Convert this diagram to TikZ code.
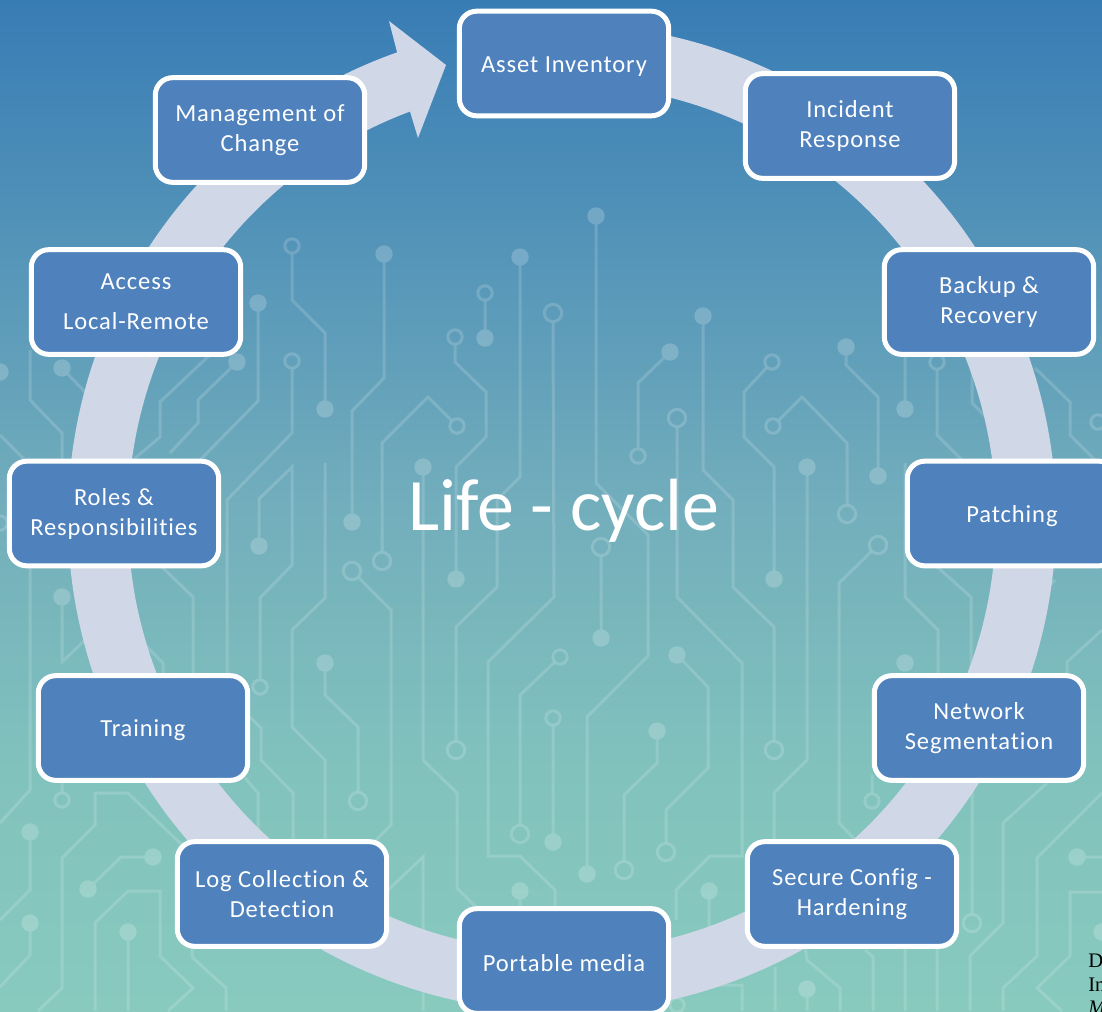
\documentclass[tikz,border=0pt]{standalone}
\usepackage{fontspec}
\setmainfont{Carlito}
\newfontfamily\boxfont[LetterSpace=3.6,Ligatures=NoCommon]{Carlito}
\newfontfamily\titlefont[Ligatures=NoCommon]{Carlito}
\newfontfamily\refserif{Liberation Serif}
\definecolor{bga}{HTML}{387CB5}
\definecolor{bgb}{HTML}{72AEBC}
\definecolor{bgc}{HTML}{81C2BD}
\definecolor{bgd}{HTML}{88CABE}
\definecolor{ringc}{HTML}{D0D8E8}
\definecolor{boxc}{HTML}{4F81BD}
\pgfdeclareverticalshading{bgshade}{100bp}{color(0bp)=(bgd); color(25bp)=(bgd); color(37bp)=(bgc); color(50bp)=(bgb); color(75bp)=(bga); color(100bp)=(bga)}
\tikzset{
  tr/.style={draw=white,line width=2.25pt,line join=miter,draw opacity=0.78},
  so/.style={shorten <=5.5pt},
  eo/.style={shorten >=5.5pt},
  soo/.style={shorten <=6.5pt},
  eoo/.style={shorten >=6.5pt},
  fd/.style={fill=white},
  od/.style={draw=white,line width=2.25pt,fill=none,draw opacity=0.85},
  stepbox/.style={draw=white,fill=boxc,line width=3.75pt,rounded corners=13pt,minimum width=157pt,minimum height=78.5pt,inner sep=0pt,text=white,align=center,font=\boxfont\fontsize{18.4}{22.5}\selectfont,execute at begin node={\rule{0pt}{16pt}}},
  reftext/.style={anchor=base west,inner sep=0pt,text=black,font=\refserif\fontsize{15.5}{18}\selectfont}
}
\newcommand{\fdot}[1]{\fill[fd] #1 circle[radius=8.7];}
\newcommand{\sdot}[1]{\draw[od] #1 circle[radius=7.2];}
\newcommand{\bdot}[1]{\draw[od] #1 circle[radius=8.7];}
\begin{document}
\begin{tikzpicture}[x=0.75pt,y=-0.75pt]
\useasboundingbox (0,0) rectangle (1102,1011);
\clip (0,0) rectangle (1102,1011);
\shade[shading=bgshade] (0,0) rectangle (1102,1011);
\begin{scope}[transparency group,opacity=0.2]
% centre-left
\draw[tr,so] (292,246)--(292,300)--(325,333)--(325,409); \sdot{(292,246)} \fdot{(325,409)}
\draw[tr] (384,254)--(384,378)--(352,411)--(352,522); \fdot{(384,254)} \fdot{(352,522)}
\draw[tr] (258,303)--(258,401)--(200,460); \fdot{(258,303)}
\draw[tr] (237,362)--(198,400)--(198,423)--(170,453); \fdot{(237,362)}
\draw[tr] (215,350)--(160,402)--(160,437)--(133,460);
\draw[tr,so] (292,361)--(292,433)--(227,500)--(227,690); \sdot{(292,361)}
\draw[tr,eoo] (259,546)--(259,499)--(292,467)--(292,565)--(260,598)--(260,687); \fdot{(259,546)} \sdot{(260,687)}
\draw[tr] (325,463)--(325,598)--(292,630)--(292,727)--(325,760)--(325,845);
\draw[tr,so,eoo] (457,426)--(428,397)--(382,443)--(382,561); \sdot{(457,426)} \bdot{(382,561)}
\draw[tr] (423,467)--(423,760)--(457,793)--(457,888)--(480,911); \fdot{(423,467)}
\draw[tr,so] (455,337)--(455,362)--(486,392)--(486,437)--(456,467)--(456,579); \sdot{(455,337)} \fdot{(456,579)}
\draw[tr,so] (485,293)--(485,338); \sdot{(485,293)} \fdot{(485,338)}
\draw[tr,eoo] (520,257)--(520,477)--(497,500)--(497,587)--(456,627)--(456,750); \fdot{(520,257)} \bdot{(456,750)}
\draw[tr,soo] (553,313)--(554,597)--(488,662)--(488,856)--(520,856)--(555,890)--(555,912); \bdot{(553,313)}
\draw[tr,soo] (352,571)--(391,610)--(391,825)--(373,843); \bdot{(352,571)}
\draw[tr,eoo] (325,663)--(325,695)--(358,727)--(358,801); \fdot{(325,663)} \bdot{(358,801)}
\draw[tr,so,eoo] (560,657)--(520,695)--(520,834); \sdot{(560,657)} \bdot{(520,834)}
\draw[tr,so] (553,718)--(553,842); \sdot{(553,718)} \fdot{(553,842)}
\draw[tr] (520,891)--(520,912); \fdot{(520,891)}
\draw[tr] (423,930)--(423,857)--(388,890);
% centre-right
\draw[tr] (596,216)--(596,483)--(648,535)--(648,656)--(587,717)--(587,874); \fdot{(596,216)} \fdot{(587,874)}
\draw[tr,eoo] (670,352)--(638,383)--(638,456); \fdot{(670,352)} \sdot{(638,456)}
\draw[tr,eoo] (703,316)--(703,470)--(733,500)--(733,587)--(774,627)--(774,750); \fdot{(703,316)} \bdot{(774,750)}
\draw[tr,so] (772,362)--(744,392)--(744,437)--(774,467)--(774,579); \sdot{(772,362)} \fdot{(774,579)}
\draw[tr,so,eoo] (773,426)--(802,397)--(847,443)--(847,514); \sdot{(773,426)} \bdot{(847,514)}
\draw[tr] (807,467)--(807,760)--(774,793)--(774,845); \fdot{(807,467)}
\draw[tr] (846,347)--(846,365)--(878,397)--(878,476); \fdot{(846,347)} \fdot{(878,476)}
\draw[tr,soo] (601,547)--(601,638); \bdot{(601,547)} \fdot{(601,638)}
\draw[tr,soo] (677,418)--(677,597)--(742,663)--(742,856)--(710,856)--(676,890)--(676,920); \bdot{(677,418)}
\draw[tr,eoo] (677,655)--(708,687)--(708,768)--(666,810)--(666,852); \fdot{(677,655)} \bdot{(666,852)}
\draw[tr,eoo] (657,731)--(657,763)--(624,795)--(624,870); \fdot{(657,731)} \bdot{(624,870)}
\draw[tr,soo] (878,545)--(839,583)--(839,823)--(860,845); \bdot{(878,545)}
\draw[tr,so] (872,801)--(872,775); \sdot{(872,801)}
\draw[tr] (709,891)--(709,940); \fdot{(709,891)}
% right
\draw[tr] (905,350)--(905,409); \fdot{(905,409)}
\draw[tr,so] (937,362)--(937,435)--(965,463); \sdot{(937,362)}
\draw[tr] (972,365)--(972,403)--(990,421);
\draw[tr] (1035,368)--(1070,402)--(1070,435)--(1100,465);
\sdot{(1098,422)}
\draw[tr] (905,463)--(905,597)--(938,630)--(938,680);
\draw[tr] (935,565)--(971,597)--(971,680);
\draw[tr] (1055,580)--(1025,610);
\fdot{(905,663)}
\draw[tr] (1067,680)--(1067,662)--(1102,630);
\draw[tr,eoo] (972,780)--(972,923); \bdot{(972,923)}
\draw[tr] (1047,783)--(1003,823)--(1003,923)--(970,956)--(970,1011);
\draw[tr] (1102,793)--(1037,858)--(1037,956)--(1003,988)--(1003,1011);
\draw[tr] (1077,857)--(1102,857); \fdot{(1077,857)}
\draw[tr] (1102,892)--(1070,892)--(1070,956)--(1037,988)--(1062,1011);
\fdot{(1102,932)}
% left
\fdot{(0,372)}
\draw[tr] (62,368)--(85,392); \fdot{(62,368)}
\draw[tr] (30,350)--(30,400)--(62,433)--(62,463);
\draw[tr] (0,435)--(28,463);
\draw[tr] (30,565)--(30,790)--(0,823);
\sdot{(0,523)}
\draw[tr] (62,597)--(62,662)--(85,640); \fdot{(62,597)}
\draw[tr] (160,565)--(193,597)--(193,680);
\draw[tr] (143,643)--(163,663)--(163,680);
\draw[tr] (250,717)--(261,728)--(261,760)--(293,793)--(293,845);
\draw[tr] (245,778)--(258,793)--(258,845);
\draw[tr,so] (62,800)--(62,775); \sdot{(62,800)}
\draw[tr] (30,832)--(30,890)--(0,920); \fdot{(30,832)}
\draw[tr] (30,923)--(30,955)--(0,987); \fdot{(30,923)}
\draw[tr] (182,845)--(128,793)--(95,793)--(95,825)--(62,858)--(62,988)--(38,1011);
\draw[tr] (153,857)--(121,857)--(88,889); \fdot{(153,857)} \fdot{(88,889)}
\draw[tr] (95,1011)--(95,923)--(128,891)--(160,891)--(160,956)--(193,988)--(168,1011);
\draw[tr] (128,932)--(128,1011); \fdot{(128,932)}
\draw[tr] (192,945)--(192,957)--(226,988)--(226,1011);
% bottom
\draw[tr] (423,983)--(423,1011);
\draw[tr] (865,950)--(873,957)--(873,1011);
\draw[tr] (905,945)--(905,1011);
\draw[tr] (937,945)--(937,1011);
\draw[tr] (805,945)--(807,960)--(840,988)--(840,1011);
\draw[tr] (807,989)--(807,1011); \fdot{(807,989)}
\draw[tr] (775,967)--(775,1011);
\draw[tr] (713,985)--(742,985)--(742,1011);
\sdot{(677,1005)}
\end{scope}
% ring with arrow head
\fill[ringc] (562,518) ++(-109.5:494) arc[start angle=-109.5,end angle=-450,radius=494]
  -- (562,84) arc[start angle=-450,end angle=-110.5,radius=434]
  -- (418,138) -- (446,65) -- (389,21) -- cycle;
% steps
\node[stepbox] (asset) at (564,63.5) {Asset Inventory};
\node[stepbox] (incident) at (850,126) {Incident\\Response};
\node[stepbox] (backup) at (989,302) {Backup \&\\Recovery};
\node[stepbox] (patching) at (1012,513.5) {Patching};
\node[stepbox] (network) at (979,728) {Network\\Segmentation};
\node[stepbox] (secure) at (852,894) {Secure Config -\\Hardening};
\node[stepbox] (portable) at (564,961) {Portable media};
\node[stepbox] (log) at (282,894) {Log Collection \&\\Detection};
\node[stepbox] (training) at (143,728) {Training};
\node[stepbox] (roles) at (114,513.5) {Roles \&\\Responsibilities};
\node[stepbox] (access) at (136,302) {Access\\[7.5pt]Local-Remote};
\node[stepbox] (moc) at (260,130) {Management of\\Change};
\node[anchor=base,inner sep=0pt,text=white,font=\titlefont\fontsize{55.5}{60}\selectfont] (title) at (564,530) {Life - cycle};
\node[reftext] (refa) at (1088,967) {D};
\node[reftext] (refb) at (1088,991) {In};
\node[reftext] (refc) at (1088,1014) {\itshape M};
\end{tikzpicture}
\end{document}
